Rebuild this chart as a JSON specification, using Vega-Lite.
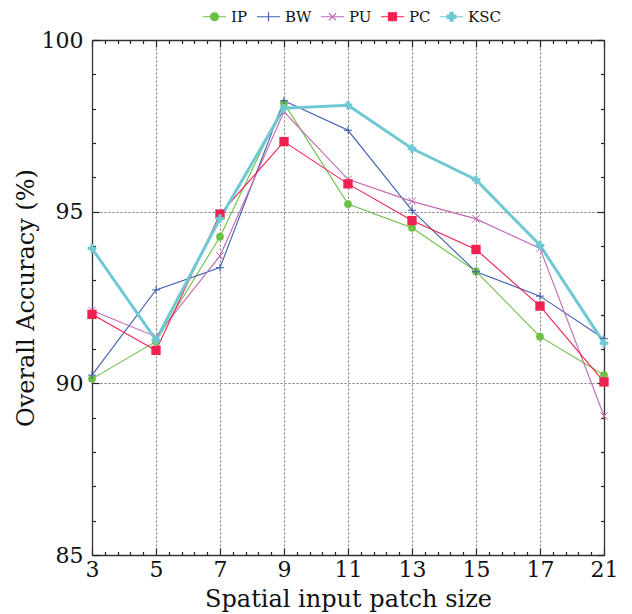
{
  "$schema": "https://vega.github.io/schema/vega-lite/v6.json",
  "width": 512,
  "height": 515,
  "autosize": {"type": "none"},
  "padding": {"left": 92, "top": 40, "right": 28, "bottom": 59},
  "config": {
    "font": "DejaVu Serif",
    "view": {"stroke": null},
    "axis": {
      "domainColor": "#333333",
      "domainWidth": 1.3,
      "tickColor": "#222222",
      "tickWidth": 1.2,
      "labelFont": "DejaVu Serif",
      "titleFont": "DejaVu Serif",
      "labelFontSize": 22,
      "titleFontSize": 24,
      "titleFontWeight": "normal",
      "labelColor": "#111111",
      "titleColor": "#111111",
      "gridColor": "#777777",
      "gridDash": [2, 2],
      "gridWidth": 1,
      "labelOverlap": false,
      "labelBound": false,
      "labelFlush": false
    }
  },
  "data": {
    "values": [
      {"size": 3, "series": "IP", "acc": 90.13},
      {"size": 5, "series": "IP", "acc": 91.22},
      {"size": 7, "series": "IP", "acc": 94.27},
      {"size": 9, "series": "IP", "acc": 98.16},
      {"size": 11, "series": "IP", "acc": 95.22},
      {"size": 13, "series": "IP", "acc": 94.53},
      {"size": 15, "series": "IP", "acc": 93.26},
      {"size": 17, "series": "IP", "acc": 91.36},
      {"size": 21, "series": "IP", "acc": 90.24},
      {"size": 3, "series": "BW", "acc": 90.24},
      {"size": 5, "series": "BW", "acc": 92.72},
      {"size": 7, "series": "BW", "acc": 93.37},
      {"size": 9, "series": "BW", "acc": 98.23},
      {"size": 11, "series": "BW", "acc": 97.37},
      {"size": 13, "series": "BW", "acc": 95.04},
      {"size": 15, "series": "BW", "acc": 93.25},
      {"size": 17, "series": "BW", "acc": 92.54},
      {"size": 21, "series": "BW", "acc": 91.3},
      {"size": 3, "series": "PU", "acc": 92.12},
      {"size": 5, "series": "PU", "acc": 91.36},
      {"size": 7, "series": "PU", "acc": 93.71},
      {"size": 9, "series": "PU", "acc": 97.91},
      {"size": 11, "series": "PU", "acc": 95.94},
      {"size": 13, "series": "PU", "acc": 95.3},
      {"size": 15, "series": "PU", "acc": 94.79},
      {"size": 17, "series": "PU", "acc": 93.93},
      {"size": 21, "series": "PU", "acc": 89.05},
      {"size": 3, "series": "PC", "acc": 92.01},
      {"size": 5, "series": "PC", "acc": 90.96},
      {"size": 7, "series": "PC", "acc": 94.93},
      {"size": 9, "series": "PC", "acc": 97.04},
      {"size": 11, "series": "PC", "acc": 95.81},
      {"size": 13, "series": "PC", "acc": 94.74},
      {"size": 15, "series": "PC", "acc": 93.9},
      {"size": 17, "series": "PC", "acc": 92.25},
      {"size": 21, "series": "PC", "acc": 90.04},
      {"size": 3, "series": "KSC", "acc": 93.93},
      {"size": 5, "series": "KSC", "acc": 91.26},
      {"size": 7, "series": "KSC", "acc": 94.8},
      {"size": 9, "series": "KSC", "acc": 98.01},
      {"size": 11, "series": "KSC", "acc": 98.1},
      {"size": 13, "series": "KSC", "acc": 96.84},
      {"size": 15, "series": "KSC", "acc": 95.93},
      {"size": 17, "series": "KSC", "acc": 94.02},
      {"size": 21, "series": "KSC", "acc": 91.17}
    ]
  },
  "layer": [
    {
      "mark": {"type": "line"},
      "encoding": {
        "x": {
          "field": "size", "type": "quantitative",
          "scale": {"domain": [3, 17, 21], "range": [0, 448, 512], "nice": false, "zero": false},
          "axis": {
            "orient": "bottom",
            "values": [3, 3.4, 3.8, 4.2, 4.6, 5, 5.4, 5.8, 6.2, 6.6, 7, 7.4, 7.8, 8.2, 8.6, 9, 9.4, 9.8, 10.2, 10.6, 11, 11.4, 11.8, 12.2, 12.6, 13, 13.4, 13.8, 14.2, 14.6, 15, 15.4, 15.8, 16.2, 16.6, 17, 17.8, 18.6, 19.4, 20.2, 21],
            "tickSize": {"condition": {"test": "datum.value % 1 === 0", "value": -7}, "value": -3.5},
            "labelExpr": "datum.value % 1 === 0 ? '' + datum.value : ''",
            "labelPadding": 11,
            "grid": true,
            "gridOpacity": {"condition": {"test": "datum.value % 1 === 0 && datum.value > 3 && datum.value < 21", "value": 1}, "value": 0},
            "title": "Spatial input patch size",
            "titlePadding": 4
          }
        },
        "y": {
          "field": "acc", "type": "quantitative",
          "scale": {"domain": [85, 100], "nice": false, "zero": false},
          "axis": {
            "orient": "left",
            "values": [85, 86, 87, 88, 89, 90, 91, 92, 93, 94, 95, 96, 97, 98, 99, 100],
            "tickSize": {"condition": {"test": "datum.value % 5 === 0", "value": -7}, "value": -3.5},
            "labelExpr": "datum.value % 5 === 0 ? '' + datum.value : ''",
            "labelPadding": 16,
            "grid": true,
            "gridOpacity": {"condition": {"test": "datum.value % 5 === 0 && datum.value > 85 && datum.value < 100", "value": 1}, "value": 0},
            "title": "Overall Accuracy (%)",
            "titlePadding": 3
          }
        },
        "color": {
          "field": "series", "type": "nominal",
          "scale": {"domain": ["IP", "BW", "PU", "PC", "KSC"], "range": ["#6dbf45", "#3f5fb0", "#c468b4", "#ef2150", "#6fc9d2"]}
        },
        "strokeWidth": {"condition": {"test": "datum.series === 'KSC'", "value": 3}, "value": 1.1}
      }
    },
    {
      "mark": {"type": "point", "filled": false, "opacity": 0},
      "encoding": {
        "x": {
          "field": "size", "type": "quantitative",
          "scale": {"domain": [3, 17, 21], "range": [0, 448, 512], "nice": false, "zero": false},
          "axis": {
            "orient": "top",
            "values": [3, 3.4, 3.8, 4.2, 4.6, 5, 5.4, 5.8, 6.2, 6.6, 7, 7.4, 7.8, 8.2, 8.6, 9, 9.4, 9.8, 10.2, 10.6, 11, 11.4, 11.8, 12.2, 12.6, 13, 13.4, 13.8, 14.2, 14.6, 15, 15.4, 15.8, 16.2, 16.6, 17, 17.8, 18.6, 19.4, 20.2, 21],
            "tickSize": {"condition": {"test": "datum.value % 1 === 0", "value": -7}, "value": -3.5},
            "labels": false,
            "grid": false,
            "title": null
          }
        },
        "y": {
          "field": "acc", "type": "quantitative",
          "scale": {"domain": [85, 100], "nice": false, "zero": false},
          "axis": {
            "orient": "right",
            "values": [85, 86, 87, 88, 89, 90, 91, 92, 93, 94, 95, 96, 97, 98, 99, 100],
            "tickSize": {"condition": {"test": "datum.value % 5 === 0", "value": -7}, "value": -3.5},
            "labels": false,
            "grid": false,
            "title": null
          }
        },
        "color": {
          "field": "series", "type": "nominal",
          "scale": {"domain": ["IP", "BW", "PU", "PC", "KSC"], "range": ["#6dbf45", "#3f5fb0", "#c468b4", "#ef2150", "#6fc9d2"]},
          "legend": {
            "orient": "none",
            "legendX": 108,
            "legendY": -31,
            "direction": "horizontal",
            "columns": 5,
            "title": null,
            "labelFontSize": 15,
            "labelFont": "DejaVu Serif",
            "labelColor": "#111111",
            "symbolSize": 64,
            "symbolOpacity": 1,
            "symbolStrokeWidth": 1.2,
            "symbolOffset": 7,
            "labelOffset": 9,
            "columnPadding": 6
          }
        },
        "fill": {
          "field": "series", "type": "nominal",
          "scale": {"domain": ["IP", "BW", "PU", "PC", "KSC"], "range": ["#6dbf45", "#3f5fb0", "#c468b4", "#ef2150", "#6fc9d2"]}
        },
        "shape": {
          "field": "series", "type": "nominal",
          "scale": {"domain": ["IP", "BW", "PU", "PC", "KSC"], "range": [
            "M-2.9,0L2.9,0M-1,0A1,1 0 1,0 1,0A1,1 0 1,0 -1,0Z",
            "M-2.9,0L2.9,0M0,-1.1L0,1.1",
            "M-2.9,0L2.9,0M-0.9,-0.9L0.9,0.9M-0.9,0.9L0.9,-0.9",
            "M-2.9,0L2.9,0M-1,-1L1,-1L1,1L-1,1Z",
            "M-2.9,0L2.9,0M-1.1,-0.4L-0.4,-0.4L-0.4,-1.1L0.4,-1.1L0.4,-0.4L1.1,-0.4L1.1,0.4L0.4,0.4L0.4,1.1L-0.4,1.1L-0.4,0.4L-1.1,0.4Z"
          ]}
        }
      }
    },
    {
      "transform": [{"filter": "datum.series === 'IP'"}],
      "mark": {"type": "point", "filled": true, "opacity": 1, "shape": "circle", "size": 60},
      "encoding": {
        "x": {"field": "size", "type": "quantitative", "axis": null},
        "y": {"field": "acc", "type": "quantitative", "axis": null},
        "color": {"field": "series", "type": "nominal"}
      }
    },
    {
      "transform": [{"filter": "datum.series === 'BW'"}],
      "mark": {"type": "point", "filled": false, "opacity": 1, "strokeWidth": 1, "shape": "M-1,0L1,0M0,-1L0,1", "size": 64},
      "encoding": {
        "x": {"field": "size", "type": "quantitative", "axis": null},
        "y": {"field": "acc", "type": "quantitative", "axis": null},
        "color": {"field": "series", "type": "nominal"}
      }
    },
    {
      "transform": [{"filter": "datum.series === 'PU'"}],
      "mark": {"type": "point", "filled": false, "opacity": 1, "strokeWidth": 1, "shape": "M-1,-1L1,1M-1,1L1,-1", "size": 55},
      "encoding": {
        "x": {"field": "size", "type": "quantitative", "axis": null},
        "y": {"field": "acc", "type": "quantitative", "axis": null},
        "color": {"field": "series", "type": "nominal"}
      }
    },
    {
      "transform": [{"filter": "datum.series === 'PC'"}],
      "mark": {"type": "point", "filled": true, "opacity": 1, "shape": "square", "size": 87},
      "encoding": {
        "x": {"field": "size", "type": "quantitative", "axis": null},
        "y": {"field": "acc", "type": "quantitative", "axis": null},
        "color": {"field": "series", "type": "nominal"}
      }
    },
    {
      "transform": [{"filter": "datum.series === 'KSC'"}],
      "mark": {"type": "point", "filled": true, "opacity": 1, "shape": "M-1,-0.38L-0.38,-0.38L-0.38,-1L0.38,-1L0.38,-0.38L1,-0.38L1,0.38L0.38,0.38L0.38,1L-0.38,1L-0.38,0.38L-1,0.38Z", "size": 75},
      "encoding": {
        "x": {"field": "size", "type": "quantitative", "axis": null},
        "y": {"field": "acc", "type": "quantitative", "axis": null},
        "color": {"field": "series", "type": "nominal"}
      }
    }
  ],
  "resolve": {"axis": {"x": "independent", "y": "independent"}}
}
